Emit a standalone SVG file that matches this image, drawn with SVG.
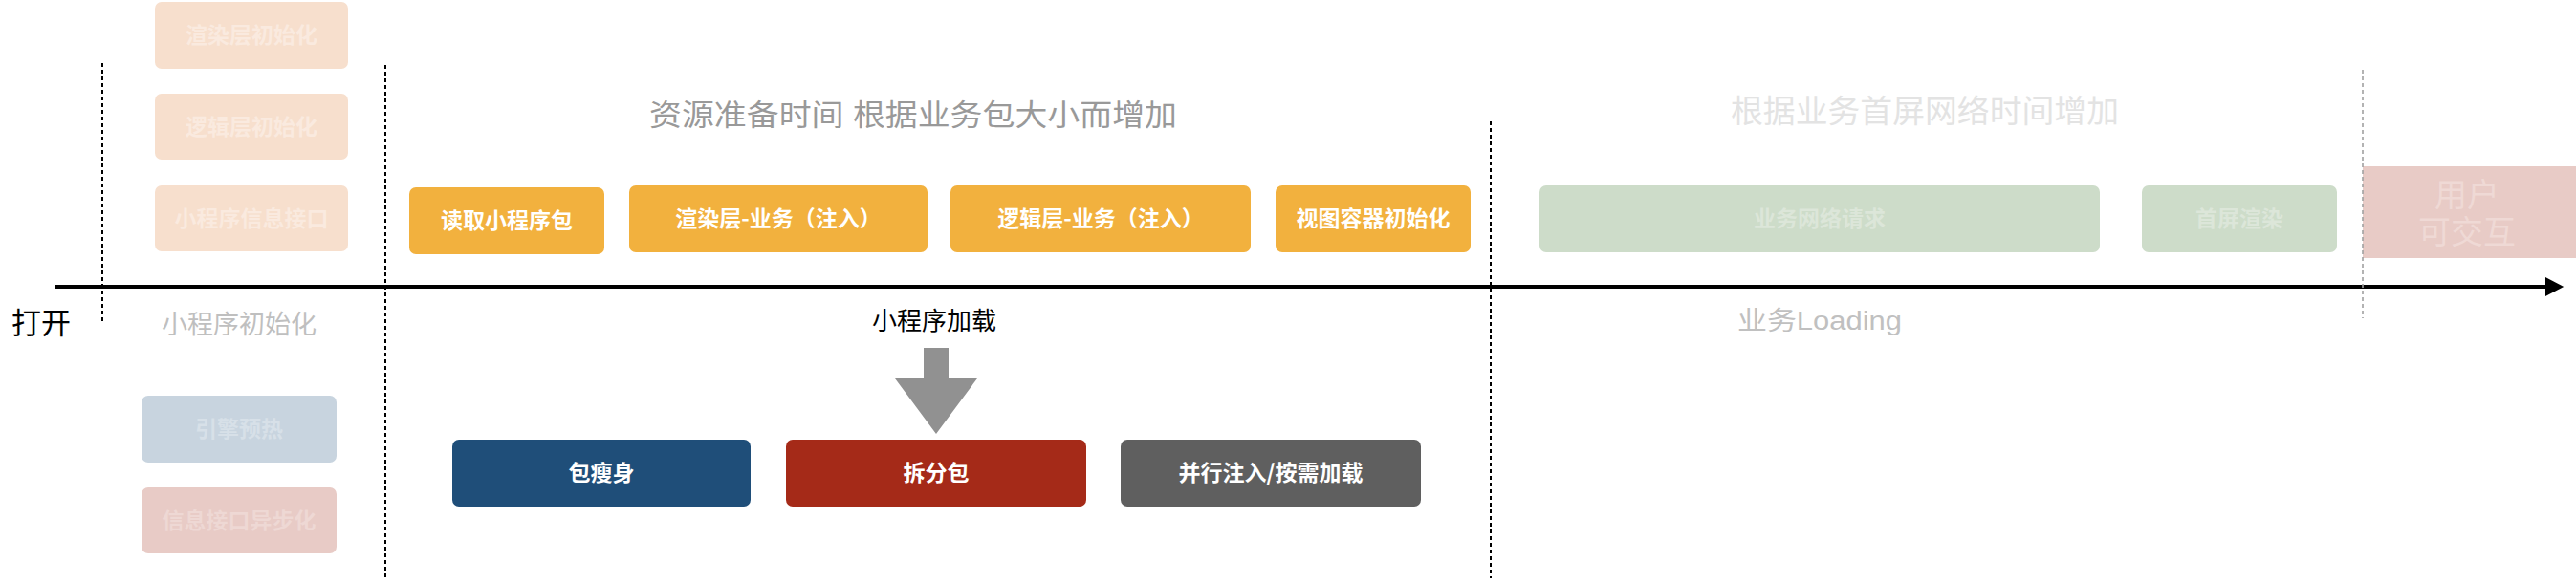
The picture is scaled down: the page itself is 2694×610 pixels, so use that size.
<svg xmlns="http://www.w3.org/2000/svg" width="2694" height="610" viewBox="0 0 2694 610">
<style>
  .t { font-family: "Liberation Sans", "Noto Sans CJK SC", sans-serif; }
  .bt { font-family: "Noto Sans CJK SC", "Liberation Sans", sans-serif; font-weight: bold; font-size: 23px; text-anchor: middle; }
  .w { fill: #ffffff; }
  .fadeO { fill: #f7dfcd; }
  .fadeOT { fill: #faeadf; }
  .fadeB { fill: #c8d4df; }
  .fadeBT { fill: #d7e0e8; }
  .fadeR { fill: #e8cbc6; }
  .fadeRT { fill: #eed8d4; }
  .fadeG { fill: #cddcc9; }
  .fadeGT { fill: #dce6d9; }
  .orange { fill: #f2b13e; }
  .dot { stroke: #000; stroke-width: 2; stroke-dasharray: 4 3; fill: none; }
</style>
<defs>
  <marker id="ah" markerWidth="5" markerHeight="5" refX="0" refY="2.5" orient="auto" markerUnits="strokeWidth">
    <path d="M0,0 L4.8,2.5 L0,5 Z" fill="#000"/>
  </marker>
</defs>

<g id="connectors">
  <line x1="58" y1="300" x2="2662" y2="300" stroke="#000" stroke-width="4" marker-end="url(#ah)"/>
  <line class="dot" x1="107" y1="66" x2="107" y2="338"/>
  <line class="dot" x1="403" y1="68" x2="403" y2="605"/>
  <line class="dot" x1="1559" y1="127" x2="1559" y2="605"/>
  <polygon id="load-arrow" points="966,364 992,364 992,396 1022,396 979,454 936,396 966,396" fill="#919191"/>
</g>

<g id="n-render-init">
  <rect class="fadeO" x="162" y="2" width="202" height="70" rx="7"/>
  <text class="bt fadeOT" x="263" y="45">渲染层初始化</text>
</g>
<g id="n-logic-init">
  <rect class="fadeO" x="162" y="98" width="202" height="69" rx="7"/>
  <text class="bt fadeOT" x="263" y="141">逻辑层初始化</text>
</g>
<g id="n-info-api">
  <rect class="fadeO" x="162" y="194" width="202" height="69" rx="7"/>
  <text class="bt fadeOT" x="263" y="237">小程序信息接口</text>
</g>
<g id="n-engine">
  <rect class="fadeB" x="148" y="414" width="204" height="70" rx="7"/>
  <text class="bt fadeBT" x="250" y="457">引擎预热</text>
</g>
<g id="n-async">
  <rect class="fadeR" x="148" y="510" width="204" height="69" rx="7"/>
  <text class="bt fadeRT" x="250" y="553">信息接口异步化</text>
</g>

<g id="n-read">
  <rect class="orange" x="428" y="196" width="204" height="70" rx="7"/>
  <text class="bt w" x="530" y="239">读取小程序包</text>
</g>
<g id="n-render-biz">
  <rect class="orange" x="658" y="194" width="312" height="70" rx="7"/>
  <text class="bt w" x="814" y="237">渲染层-业务（注入）</text>
</g>
<g id="n-logic-biz">
  <rect class="orange" x="994" y="194" width="314" height="70" rx="7"/>
  <text class="bt w" x="1151" y="237">逻辑层-业务（注入）</text>
</g>
<g id="n-view">
  <rect class="orange" x="1334" y="194" width="204" height="70" rx="7"/>
  <text class="bt w" x="1436" y="237">视图容器初始化</text>
</g>

<g id="n-net">
  <rect class="fadeG" x="1610" y="194" width="586" height="70" rx="7"/>
  <text class="bt fadeGT" x="1903" y="237">业务网络请求</text>
</g>
<g id="n-first">
  <rect class="fadeG" x="2240" y="194" width="204" height="70" rx="7"/>
  <text class="bt fadeGT" x="2342" y="237">首屏渲染</text>
</g>

<g id="n-interact">
  <rect class="fadeR" x="2471" y="174" width="223" height="96"/>
  <line x1="2471" y1="73" x2="2471" y2="333" stroke="#a0a0a0" stroke-opacity="0.8" stroke-width="2" stroke-dasharray="4 3"/>
  <text class="t" x="2580" y="216" font-size="34" text-anchor="middle" fill="#efd9d5">用户</text>
  <text class="t" x="2580" y="255" font-size="34" text-anchor="middle" fill="#efd9d5">可交互</text>
</g>

<g id="n-slim">
  <rect x="473" y="460" width="312" height="70" rx="7" fill="#1f4e79"/>
  <text class="bt w" x="629" y="503">包瘦身</text>
</g>
<g id="n-split">
  <rect x="822" y="460" width="314" height="70" rx="7" fill="#a52a18"/>
  <text class="bt w" x="979" y="503">拆分包</text>
</g>
<g id="n-parallel">
  <rect x="1172" y="460" width="314" height="70" rx="7" fill="#5f5f5f"/>
  <text class="bt w" x="1329" y="503">并行注入/按需加载</text>
</g>

<g id="labels">
  <text class="t" x="679" y="131" font-size="31" fill="#999999" textLength="552" lengthAdjust="spacingAndGlyphs">资源准备时间 根据业务包大小而增加</text>
  <text class="t" x="1810" y="128" font-size="33" fill="#e3e3e3" textLength="406" lengthAdjust="spacingAndGlyphs">根据业务首屏网络时间增加</text>
  <text class="t" x="12" y="349" font-size="31" fill="#000">打开</text>
  <text class="t" x="250" y="349" font-size="27" fill="#bfbfbf" text-anchor="middle">小程序初始化</text>
  <text class="t" x="977" y="345" font-size="26" fill="#000" text-anchor="middle">小程序加载</text>
  <text class="t" x="1817" y="345" font-size="27" fill="#c0c0c0" textLength="172" lengthAdjust="spacingAndGlyphs">业务Loading</text>
</g>
</svg>
